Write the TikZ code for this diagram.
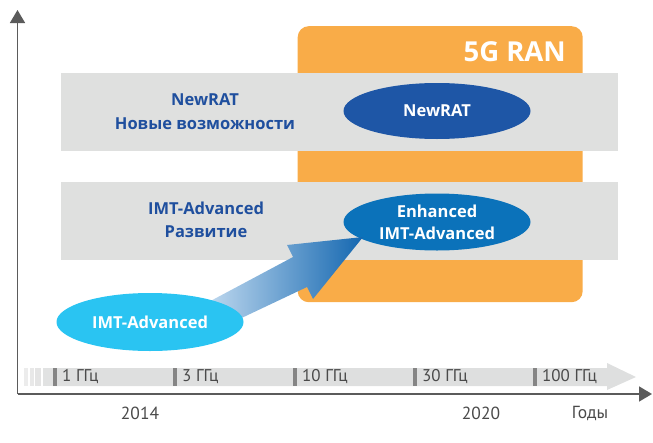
\documentclass[tikz,border=0pt]{standalone}
\usepackage{fontspec}
\setmainfont{PT Sans}
\newfontfamily\headsans{Open Sans}
\usetikzlibrary{arrows.meta,shapes.geometric}
\definecolor{orangebox}{HTML}{F9AC48}
\definecolor{bandgray}{HTML}{DFE0DF}
\definecolor{bandblue}{HTML}{1F4F9E}
\definecolor{newratblue}{HTML}{1E56A6}
\definecolor{enhblue}{HTML}{0B72BA}
\definecolor{imtcyan}{HTML}{2AC4F2}
\definecolor{axisgray}{HTML}{5B5B5B}
\definecolor{bargray}{HTML}{DEDFDF}
\definecolor{tickgray}{HTML}{858585}
\definecolor{labelgray}{HTML}{4A4A4A}
\definecolor{arrpale}{HTML}{C4DCF1}
\definecolor{arrmid}{HTML}{1EA2DD}
\definecolor{arrdark}{HTML}{1467B0}
\definecolor{stripeA}{HTML}{ECECEC}
\definecolor{stripeB}{HTML}{E8E8E8}
\definecolor{stripeC}{HTML}{E4E4E4}
\definecolor{stripeD}{HTML}{E1E2E2}
\tikzset{
  band/.style={fill=bandgray, draw=none},
  bandtext/.style={text=bandblue, font=\headsans\bfseries\fontsize{16.5}{23.5}\selectfont, align=center, inner sep=0},
  oval/.style={ellipse, draw=none, inner sep=0, minimum width=187pt, minimum height=57pt},
  ovaltext/.style={text=white, font=\headsans\bfseries\fontsize{16.5}{22}\selectfont, align=center, inner sep=0},
  axisline/.style={draw=axisgray, line width=1.6pt, -{Triangle[length=13pt,width=15pt]}},
  tickmark/.style={fill=tickgray, draw=none},
  freq/.style={text=labelgray, font=\fontsize{17}{18}\selectfont, anchor=west, inner sep=0},
  year/.style={text=labelgray, font=\fontsize{17.5}{18}\selectfont, inner sep=0}
}
\begin{document}
\begin{tikzpicture}[x=1pt,y=-1pt]
\useasboundingbox (0,0) rectangle (653,442);
% orange 5G RAN box
\node[fill=orangebox, rounded corners=11pt, minimum width=285pt, minimum height=276pt, inner sep=0, anchor=north west] (ran) at (297.5,26) {};
\node[text=white, font=\headsans\bfseries\fontsize{27.5}{30}\selectfont, anchor=east, inner sep=0] (rantitle) at (566,52) {5G RAN};
% gray bands
\node[band, minimum width=557pt, minimum height=78pt, inner sep=0, anchor=north west] (band1) at (61,73) {};
\node[band, minimum width=557pt, minimum height=78pt, inner sep=0, anchor=north west] (band2) at (61,182) {};
\node[bandtext] (b1text) at (205,111.5) {NewRAT\\Новые возможности};
\node[bandtext] (b2text) at (206,220) {IMT-Advanced\\Развитие};
% ellipses
\node[oval, fill=newratblue, minimum height=56pt] (newrat) at (437,111) {};
\node[oval, fill=enhblue] (enh) at (437,222) {};
% fat arrow
\shade[left color=arrpale, middle color=arrmid, right color=arrdark]
  (203,305) -- (293,257) -- (287,245) -- (363,237) -- (313,299) -- (307,287) -- (231,323) -- cycle;
\node[oval, fill=imtcyan, minimum height=58pt] (imt) at (150,322) {};
\node[ovaltext] (newratlab) at (newrat.center) {NewRAT};
\node[ovaltext] (enhlab) at (enh.center) {Enhanced\\IMT-Advanced};
\node[ovaltext] (imtlab) at (imt.center) {IMT-Advanced};
% frequency bar
\fill[stripeA] (24,368) rectangle (28,386);
\fill[stripeB] (29.5,368) rectangle (33.5,386);
\fill[stripeC] (35,368) rectangle (41,386);
\fill[stripeD] (42.5,368) rectangle (53,386);
\fill[bargray] (53,368) -- (607,368) -- (607,363) -- (636,377) -- (607,390) -- (607,386) -- (53,386) -- cycle;
\foreach \x/\lab in {53/1 ГГц, 173/3 ГГц, 293/10 ГГц, 413/30 ГГц, 533/100 ГГц}{
  \fill[tickmark] (\x,368) rectangle (\x+4,386);
  \node[freq] at (\x+9,377) {\lab};
}
% axes
\coordinate (origin) at (17.5,394);
\coordinate (ytop) at (17.5,10);
\coordinate (xend) at (652,394);
\draw[axisline] (origin) -- (ytop);
\draw[axisline] (origin) -- (xend);
\node[year] (y2014) at (140,413) {2014};
\node[year] (y2020) at (481,413) {2020};
\node[year] (years) at (590,413) {Годы};
\end{tikzpicture}
\end{document}
